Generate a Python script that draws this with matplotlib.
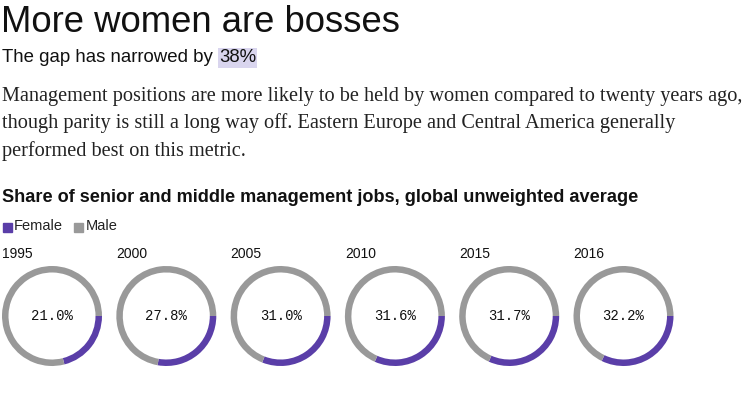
import matplotlib.pyplot as plt

years = ['1995', '2000', '2005', '2010', '2015', '2016']
female = [21.0, 27.8, 31.0, 31.6, 31.7, 32.2]
male = [100 - f for f in female]

purple = '#5a3ea8'
gray = '#999999'

W, H = 751, 393
fig = plt.figure(figsize=(W / 100, H / 100), dpi=100)
fig.patch.set_facecolor('white')

def px(x, y):
    return x / W, 1 - y / H

sans = 'Liberation Sans'
serif = 'Liberation Serif'

fig.text(*px(1, 22), 'More women are bosses', fontsize=26.3, family=sans,
         va='center', ha='left', color='#111111')
t = fig.text(*px(2, 58), 'The gap has narrowed by ', fontsize=13.4, family=sans,
             va='center', ha='left', color='#111111')
renderer = fig.canvas.get_renderer()
bb = t.get_window_extent(renderer)
fig.text(bb.x1 / W + 1 / W, 1 - 58 / H, '38%', fontsize=13.4, family=sans, va='center',
         ha='left', color='#111111',
         bbox=dict(facecolor='#d9d5ee', edgecolor='none', pad=1))

body = ['Management positions are more likely to be held by women compared to twenty years ago,',
        'though parity is still a long way off. Eastern Europe and Central America generally',
        'performed best on this metric.']
for i, line in enumerate(body):
    fig.text(*px(2, 96 + i * 27.5), line, fontsize=14.55, family=serif,
             va='center', ha='left', color='#222222')

fig.text(*px(2, 198), 'Share of senior and middle management jobs, global unweighted average',
         fontsize=13.1, family=sans, weight='bold', va='center', ha='left', color='#111111')

# legend
fig.patches.append(plt.Rectangle(px(3, 232), 9 / W, 9 / H, transform=fig.transFigure,
                                 color=purple, figure=fig))
fig.text(*px(14, 226), 'Female', fontsize=10.5, family=sans, va='center', ha='left', color='#222222')
fig.patches.append(plt.Rectangle(px(74, 232), 9 / W, 9 / H, transform=fig.transFigure,
                                 color=gray, figure=fig))
fig.text(*px(86, 226), 'Male', fontsize=10.5, family=sans, va='center', ha='left', color='#222222')

cx0, step, cy, r = 52, 114.3, 316, 50
for i, (yr, f, m) in enumerate(zip(years, female, male)):
    cx = cx0 + i * step
    fig.text(*px(2 + i * step, 254), yr, fontsize=10, family=sans, va='center', ha='left',
             color='#111111')
    ax = fig.add_axes([(cx - r) / W, 1 - (cy + r) / H, 2 * r / W, 2 * r / H])
    ax.pie([f, m], colors=[purple, gray], startangle=0, counterclock=False,
           radius=1, wedgeprops=dict(width=0.13, linewidth=0))
    ax.set_xlim(-1, 1)
    ax.set_ylim(-1, 1)
    ax.set_aspect('equal')
    ax.axis('off')
    ax.text(0, 0, f'{f:.1f}%', fontsize=10, family='Liberation Mono', ha='center', va='center',
            color='#111111')

fig.savefig('out.png', dpi=100, facecolor='white')
